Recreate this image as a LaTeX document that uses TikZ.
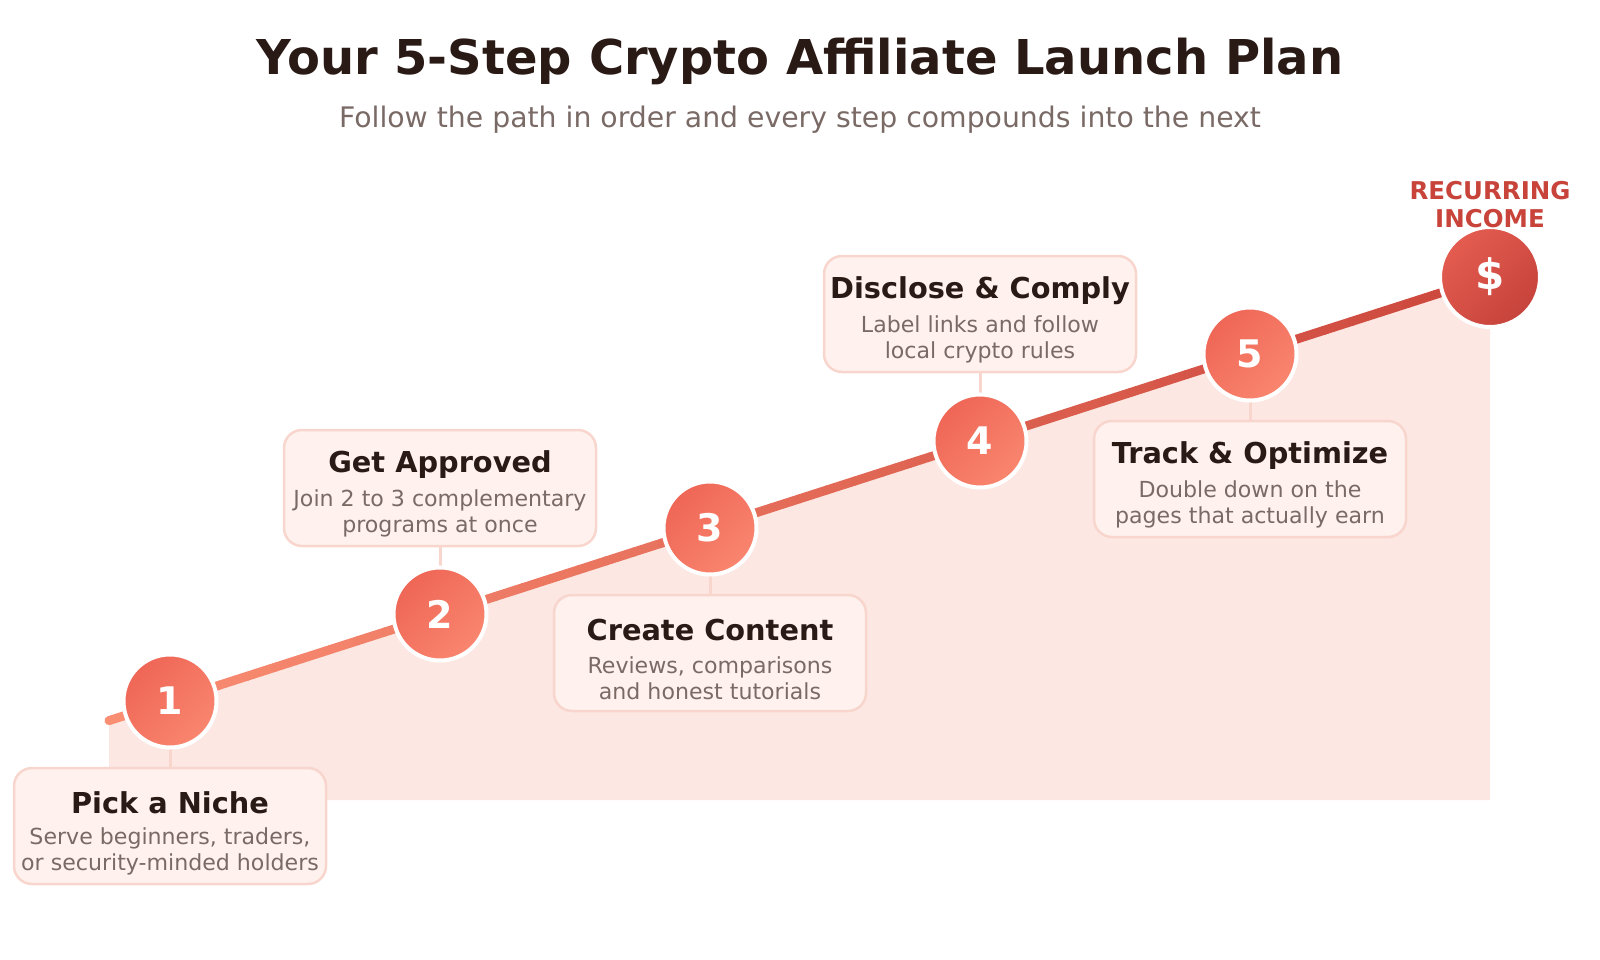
\documentclass[tikz,border=0pt]{standalone}
\usepackage{fontspec}
\setmainfont{DejaVu Sans}
\usetikzlibrary{positioning,calc}

\definecolor{inkdark}{HTML}{2A1A16}
\definecolor{inkgray}{HTML}{7A6A66}
\definecolor{areapink}{HTML}{FCE7E2}
\definecolor{boxfill}{HTML}{FEF1EE}
\definecolor{boxline}{HTML}{F8D6CD}
\definecolor{dotA}{HTML}{EF6656}
\definecolor{dotB}{HTML}{F9866F}
\definecolor{goalA}{HTML}{E45C50}
\definecolor{goalB}{HTML}{C6433B}
\definecolor{pathA}{HTML}{FA8E73}
\definecolor{pathB}{HTML}{CB463C}
\definecolor{goaltext}{HTML}{C8443A}

\begin{document}
\begin{tikzpicture}[x=1pt,y=-1pt,
		stepdot/.style={circle, minimum size=93pt, inner sep=0pt, draw=white, line width=4pt,
				top color=dotA, bottom color=dotB, shading angle=45,
				text=white, font=\fontsize{38}{44}\selectfont\bfseries},
		goaldot/.style={stepdot, minimum size=100pt, top color=goalA, bottom color=goalB, shading angle=45,
				font=\fontsize{42}{48}\selectfont\bfseries},
		stepbox/.style={rectangle, rounded corners=18pt, minimum width=312pt, minimum height=116pt,
				fill=boxfill, draw=boxline, line width=2.5pt},
		boxtitle/.style={font=\fontsize{28.8}{33}\selectfont\bfseries, text=inkdark},
		boxtext/.style={font=\fontsize{22.1}{26}\selectfont, text=inkgray, align=center},
		stub/.style={draw=boxline, line width=3pt}]
		\useasboundingbox (0,0) rectangle (1600,960);

		\node[font=\fontsize{48}{56}\selectfont\bfseries, text=inkdark] (title) at (800,61) {Your 5-Step Crypto Affiliate Launch Plan};
		\node[font=\fontsize{28.3}{33}\selectfont, text=inkgray] (subtitle) at (800,120) {Follow the path in order and every step compounds into the next};

		\coordinate (start) at (109,720.6);
		\coordinate (goal) at (1490,277);
		\fill[areapink] (start) -- (goal) -- (1490,800) -- (109,800) -- cycle;

		% rising path, drawn in pieces to fade the colour
		\foreach \i in {0,...,49}{
				\pgfmathsetmacro{\ta}{\i/50}
				\pgfmathsetmacro{\tb}{(\i+1)/50}
				\pgfmathtruncatemacro{\pct}{100-2*\i}
				\draw[line width=9pt, line cap=round, pathA!\pct!pathB] ($(start)!\ta!(goal)$) -- ($(start)!\tb!(goal)$);
			}

		\coordinate (p1) at (170,701);
		\coordinate (p2) at (440,614);
		\coordinate (p3) at (710,528);
		\coordinate (p4) at (980,441);
		\coordinate (p5) at (1250,354);

		\node[stepbox] (b1) at ($(p1)+(0,125)$) {};
		\node[stepbox] (b2) at ($(p2)+(0,-126)$) {};
		\node[stepbox] (b3) at ($(p3)+(0,125)$) {};
		\node[stepbox] (b4) at ($(p4)+(0,-127)$) {};
		\node[stepbox] (b5) at ($(p5)+(0,125)$) {};

		\foreach \k in {1,...,5}{
				\draw[stub] (p\k) -- (b\k);
			}
		\foreach \k in {1,...,5}{
				\node[stepdot] (c\k) at (p\k) {\k};
			}
		\node[goaldot] (cend) at (goal) {\$};
		\node[font=\fontsize{24.5}{28}\selectfont\bfseries, text=goaltext, align=center] (goallabel) at ($(goal)+(0,-72)$) {RECURRING\\INCOME};

		\node[boxtitle] at ($(b1.north)+(0,36)$) {Pick a Niche};
		\node[boxtext] at ($(b1.north)+(0,85)$) {Serve beginners, traders,\\or security-minded holders};
		\node[boxtitle] at ($(b2.north)+(0,36)$) {Get Approved};
		\node[boxtext] at ($(b2.north)+(0,85)$) {Join 2 to 3 complementary\\programs at once};
		\node[boxtitle] at ($(b3.north)+(0,36)$) {Create Content};
		\node[boxtext] at ($(b3.north)+(0,85)$) {Reviews, comparisons\\and honest tutorials};
		\node[boxtitle] at ($(b4.north)+(0,36)$) {Disclose \& Comply};
		\node[boxtext] at ($(b4.north)+(0,85)$) {Label links and follow\\local crypto rules};
		\node[boxtitle] at ($(b5.north)+(0,36)$) {Track \& Optimize};
		\node[boxtext] at ($(b5.north)+(0,85)$) {Double down on the\\pages that actually earn};
	\end{tikzpicture}
\end{document}
